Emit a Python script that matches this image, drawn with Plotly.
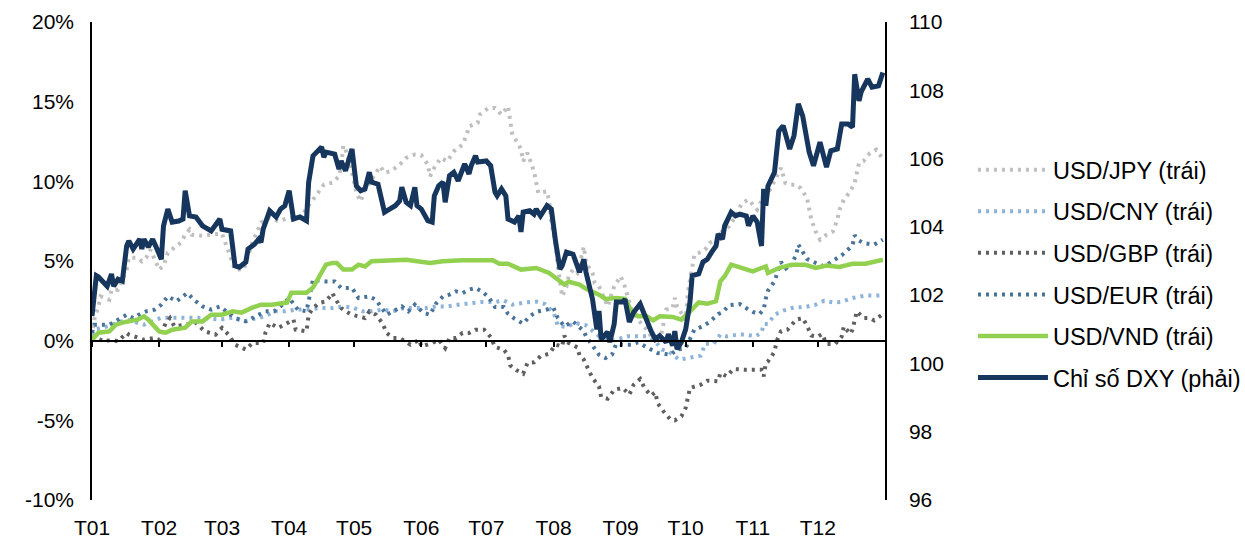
import plotly.graph_objects as go

# ---------------- data ----------------
month_starts = ["2024-01-01", "2024-02-01", "2024-03-01", "2024-04-01", "2024-05-01", "2024-06-01",
                "2024-07-01", "2024-08-01", "2024-09-01", "2024-10-01", "2024-11-01", "2024-12-01"]
month_labels = ["T01", "T02", "T03", "T04", "T05", "T06", "T07", "T08", "T09", "T10", "T11", "T12"]

jpy_dates = ["2024-01-01", "2024-01-02", "2024-01-04", "2024-01-05", "2024-01-09", "2024-01-10", "2024-01-13",
             "2024-01-17", "2024-01-18", "2024-01-22", "2024-01-24", "2024-01-26", "2024-01-28", "2024-02-01",
             "2024-02-03", "2024-02-05", "2024-02-08", "2024-02-11", "2024-02-13", "2024-02-15", "2024-02-16",
             "2024-02-21", "2024-03-01", "2024-03-07", "2024-03-11", "2024-03-15", "2024-03-19", "2024-03-23",
             "2024-03-27", "2024-04-01", "2024-04-06", "2024-04-12", "2024-04-15", "2024-04-17", "2024-04-21",
             "2024-04-24", "2024-04-25", "2024-04-26", "2024-04-27", "2024-04-30", "2024-05-02", "2024-05-04",
             "2024-05-06", "2024-05-09", "2024-05-13", "2024-05-15", "2024-05-18", "2024-05-22", "2024-05-25",
             "2024-05-29", "2024-06-01", "2024-06-04", "2024-06-05", "2024-06-07", "2024-06-10", "2024-06-13",
             "2024-06-16", "2024-06-20", "2024-06-22", "2024-06-23", "2024-06-27", "2024-06-28", "2024-07-02",
             "2024-07-05", "2024-07-08", "2024-07-11", "2024-07-12", "2024-07-13", "2024-07-16", "2024-07-17",
             "2024-07-18", "2024-07-20", "2024-07-23", "2024-07-24", "2024-07-25", "2024-07-29", "2024-07-30",
             "2024-07-31", "2024-08-02", "2024-08-03", "2024-08-05", "2024-08-07", "2024-08-08", "2024-08-10",
             "2024-08-12", "2024-08-15", "2024-08-16", "2024-08-19", "2024-08-20", "2024-08-22", "2024-08-25",
             "2024-08-26", "2024-08-29", "2024-09-01", "2024-09-03", "2024-09-06", "2024-09-09", "2024-09-13",
             "2024-09-16", "2024-09-19", "2024-09-22", "2024-09-25", "2024-09-26", "2024-09-27", "2024-09-30",
             "2024-10-01", "2024-10-02", "2024-10-04", "2024-10-05", "2024-10-07", "2024-10-10", "2024-10-12",
             "2024-10-15", "2024-10-17", "2024-10-21", "2024-10-24", "2024-10-27", "2024-10-30", "2024-11-03",
             "2024-11-06", "2024-11-09", "2024-11-12", "2024-11-14", "2024-11-16", "2024-11-18", "2024-11-21",
             "2024-11-23", "2024-11-26", "2024-11-27", "2024-11-28", "2024-11-30", "2024-12-02", "2024-12-05",
             "2024-12-08", "2024-12-10", "2024-12-11", "2024-12-13", "2024-12-16", "2024-12-18", "2024-12-19",
             "2024-12-20", "2024-12-22", "2024-12-25", "2024-12-28", "2024-12-31"]
jpy_vals = [0.3, 1.3, 2.2, 2.78, 2.57, 3.2, 3.2,
            4.46, 5.2, 5.2, 4.98, 5.2, 5.71, 4.46,
            4.7, 5.52, 5.84, 6.15, 6.65, 6.97, 6.65,
            6.59, 6.72, 4.46, 4.46, 6.15, 7.41, 7.72,
            7.49, 7.72, 7.72, 8.85, 9.37, 9.79, 9.92,
            10.31, 10.94, 12.24, 12.0, 10.55, 9.29, 8.74,
            9.48, 10.1, 10.94, 10.55, 10.63, 11.05, 11.47,
            11.68, 11.63, 11.05, 10.31, 10.86, 11.47, 11.26,
            11.88, 12.3, 12.93, 13.45, 13.67, 14.19, 14.61,
            14.61, 14.19, 14.71, 13.56, 12.93, 12.3, 11.99,
            11.26, 11.78, 10.63, 9.9, 9.27, 9.37, 8.74,
            7.39, 6.13, 4.66, 2.78, 3.4, 4.04, 4.46,
            4.25, 5.9, 4.88, 4.25, 3.62, 3.41, 2.57,
            2.15, 3.41, 4.04, 3.37, 1.95, 1.32, 0.69,
            0.06, -0.15, 1.95, 2.05, 2.68, 2.15, 1.53,
            1.3, 2.99, 4.66, 5.4, 5.5, 5.71, 6.13,
            6.34, 6.76, 7.18, 7.80, 8.64, 8.85, 8.22,
            9.06, 9.48, 10.31, 10.84, 9.9, 9.79, 9.79,
            9.58, 8.96, 8.22, 7.60, 6.86, 6.34, 6.65,
            6.86, 7.60, 8.22, 8.85, 9.37, 9.9, 10.42,
            11.15, 11.26, 11.78, 11.99, 11.4]

cny_dates = ["2024-01-01", "2024-01-02", "2024-01-08", "2024-01-17", "2024-01-25", "2024-02-02", "2024-02-08",
             "2024-02-13", "2024-02-19", "2024-02-29", "2024-03-06", "2024-03-11", "2024-03-17", "2024-03-21",
             "2024-03-25", "2024-03-30", "2024-04-04", "2024-04-10", "2024-04-15", "2024-04-21", "2024-04-26",
             "2024-05-01", "2024-05-05", "2024-05-09", "2024-05-14", "2024-05-19", "2024-05-24", "2024-06-03",
             "2024-06-08", "2024-06-13", "2024-06-18", "2024-06-23", "2024-06-29", "2024-07-05", "2024-07-09",
             "2024-07-13", "2024-07-19", "2024-07-24", "2024-07-28", "2024-08-01", "2024-08-03", "2024-08-07",
             "2024-08-11", "2024-08-16", "2024-08-20", "2024-08-23", "2024-08-29", "2024-09-04", "2024-09-13",
             "2024-09-17", "2024-09-20", "2024-09-23", "2024-09-28", "2024-10-03", "2024-10-08", "2024-10-10",
             "2024-10-14", "2024-10-17", "2024-10-20", "2024-10-25", "2024-10-29", "2024-11-02", "2024-11-05",
             "2024-11-06", "2024-11-08", "2024-11-11", "2024-11-15", "2024-11-20", "2024-11-25", "2024-11-30",
             "2024-12-04", "2024-12-08", "2024-12-12", "2024-12-17", "2024-12-23", "2024-12-28", "2024-12-31"]
cny_vals = [0.4, 0.69, 0.9, 1.32, 1.0, 1.44, 1.44,
            1.44, 1.44, 1.32, 1.44, 1.21, 1.44, 1.53,
            1.84, 1.84, 1.95, 1.95, 2.05, 2.05, 2.15,
            2.05, 1.84, 1.84, 1.95, 1.84, 2.05, 2.05,
            2.15, 2.15, 2.26, 2.32, 2.43, 2.43, 2.53,
            2.26, 2.40, 2.45, 2.30, 1.78, 0.94, 0.86,
            1.11, 0.96, 0.48, 0.17, 0.02, 0.27, 0.27,
            -0.04, -0.56, -0.67, -1.19, -1.09, -0.94, -0.19,
            -0.19, 0.38, 0.27, 0.38, 0.38, 0.27, 0.48,
            1.05, 1.05, 1.63, 1.88, 2.09, 2.11, 2.26,
            2.51, 2.40, 2.43, 2.68, 2.83, 2.83, 2.85]

gbp_dates = ["2024-01-01", "2024-01-02", "2024-01-07", "2024-01-10", "2024-01-13", "2024-01-17", "2024-01-18",
             "2024-01-22", "2024-01-25", "2024-01-30", "2024-02-01", "2024-02-04", "2024-02-06", "2024-02-08",
             "2024-02-12", "2024-02-18", "2024-02-22", "2024-02-27", "2024-03-01", "2024-03-04", "2024-03-07",
             "2024-03-12", "2024-03-15", "2024-03-20", "2024-03-21", "2024-03-23", "2024-03-27", "2024-03-31",
             "2024-04-03", "2024-04-04", "2024-04-09", "2024-04-10", "2024-04-12", "2024-04-15", "2024-04-18",
             "2024-04-21", "2024-04-22", "2024-04-25", "2024-04-27", "2024-04-30", "2024-05-06", "2024-05-08",
             "2024-05-11", "2024-05-14", "2024-05-16", "2024-05-19", "2024-05-22", "2024-05-27", "2024-05-31",
             "2024-06-01", "2024-06-06", "2024-06-09", "2024-06-12", "2024-06-14", "2024-06-17", "2024-06-20",
             "2024-06-23", "2024-06-26", "2024-06-30", "2024-07-03", "2024-07-05", "2024-07-09", "2024-07-11",
             "2024-07-12", "2024-07-15", "2024-07-18", "2024-07-20", "2024-07-23", "2024-07-26", "2024-07-30",
             "2024-08-01", "2024-08-02", "2024-08-05", "2024-08-06", "2024-08-08", "2024-08-12", "2024-08-13",
             "2024-08-15", "2024-08-17", "2024-08-19", "2024-08-22", "2024-08-23", "2024-08-26", "2024-08-29",
             "2024-09-02", "2024-09-05", "2024-09-07", "2024-09-10", "2024-09-12", "2024-09-15", "2024-09-17",
             "2024-09-18", "2024-09-21", "2024-09-24", "2024-09-26", "2024-09-29", "2024-10-01", "2024-10-02",
             "2024-10-03", "2024-10-08", "2024-10-11", "2024-10-16", "2024-10-17", "2024-10-20", "2024-10-23",
             "2024-10-28", "2024-11-05", "2024-11-06", "2024-11-07", "2024-11-08", "2024-11-11", "2024-11-12",
             "2024-11-14", "2024-11-17", "2024-11-21", "2024-11-24", "2024-11-26", "2024-11-28", "2024-12-01",
             "2024-12-03", "2024-12-05", "2024-12-09", "2024-12-12", "2024-12-13", "2024-12-16", "2024-12-17",
             "2024-12-18", "2024-12-19", "2024-12-22", "2024-12-25", "2024-12-27", "2024-12-31"]
gbp_vals = [0.1, 0.19, -0.04, 0.06, -0.04, 0.48, 0.38,
            0.17, 0.06, 0.17, 0.06, 1.11, 1.42, 0.9,
            1.0, 1.11, 0.59, 0.38, 0.80, 0.38, -0.25,
            -0.56, -0.15, -0.15, 0.48, 1.11, 0.80, 1.11,
            1.32, 0.69, 0.59, 1.63, 2.05, 2.37, 2.47,
            2.99, 2.68, 2.05, 1.84, 1.63, 1.42, 1.84,
            1.63, 1.11, 0.48, 0.17, 0.17, -0.25, 0.06,
            -0.36, -0.15, 0.06, -0.46, 0.17, 0.17, 0.48,
            0.48, 0.69, 0.69, 0.23, -0.4, -0.56, -0.88,
            -1.55, -1.86, -2.07, -1.40, -1.36, -0.98, -0.82,
            -0.46, -0.25, -0.36, 0.31, -0.15, -0.42, -0.92,
            -1.19, -1.78, -2.34, -2.87, -3.54, -3.64, -3.08,
            -2.97, -3.39, -2.76, -2.41, -2.97, -3.45, -3.24,
            -3.91, -4.48, -4.96, -5.0, -4.75, -4.22, -3.60,
            -2.97, -2.76, -2.51, -2.55, -2.03, -2.24, -1.78,
            -1.82, -1.82, -2.24, -1.40, -1.30, -0.70, -0.04,
            0.59, 0.69, 1.32, 1.42, 0.94, 0.33, 0.25,
            0.42, -0.21, -0.21, 0.25, 0.90, 0.42, 0.69,
            1.32, 1.84, 1.42, 1.42, 1.27, 1.67]

eur_dates = ["2024-01-01", "2024-01-02", "2024-01-04", "2024-01-09", "2024-01-17", "2024-01-20", "2024-01-24",
             "2024-01-26", "2024-01-30", "2024-02-02", "2024-02-05", "2024-02-09", "2024-02-12", "2024-02-14",
             "2024-02-17", "2024-02-21", "2024-02-25", "2024-02-29", "2024-03-03", "2024-03-07", "2024-03-12",
             "2024-03-15", "2024-03-18", "2024-03-21", "2024-03-25", "2024-03-28", "2024-04-01", "2024-04-05",
             "2024-04-09", "2024-04-10", "2024-04-12", "2024-04-18", "2024-04-22", "2024-04-25", "2024-04-30",
             "2024-05-03", "2024-05-08", "2024-05-11", "2024-05-16", "2024-05-19", "2024-05-23", "2024-05-26",
             "2024-05-29", "2024-06-02", "2024-06-05", "2024-06-08", "2024-06-11", "2024-06-14", "2024-06-17",
             "2024-06-20", "2024-06-23", "2024-06-26", "2024-06-29", "2024-07-02", "2024-07-05", "2024-07-09",
             "2024-07-11", "2024-07-14", "2024-07-18", "2024-07-21", "2024-07-24", "2024-07-27", "2024-08-01",
             "2024-08-03", "2024-08-06", "2024-08-10", "2024-08-13", "2024-08-15", "2024-08-16", "2024-08-19",
             "2024-08-22", "2024-08-25", "2024-08-28", "2024-08-30", "2024-09-02", "2024-09-06", "2024-09-09",
             "2024-09-15", "2024-09-18", "2024-09-24", "2024-09-27", "2024-10-01", "2024-10-05", "2024-10-09",
             "2024-10-12", "2024-10-16", "2024-10-18", "2024-10-21", "2024-10-24", "2024-10-26", "2024-10-30",
             "2024-11-01", "2024-11-04", "2024-11-06", "2024-11-07", "2024-11-08", "2024-11-11", "2024-11-14",
             "2024-11-17", "2024-11-21", "2024-11-22", "2024-11-24", "2024-11-26", "2024-11-30", "2024-12-04",
             "2024-12-10", "2024-12-12", "2024-12-17", "2024-12-18", "2024-12-20", "2024-12-22", "2024-12-27",
             "2024-12-31"]
eur_vals = [0.5, 1.0, 1.0, 1.0, 1.63, 1.42, 1.74,
            1.84, 1.95, 2.26, 2.78, 2.47, 2.78, 2.99,
            2.57, 2.15, 1.95, 2.15, 1.84, 1.42, 1.21,
            1.42, 1.63, 1.84, 1.84, 2.15, 2.68, 1.95,
            1.84, 2.47, 3.83, 3.72, 3.72, 3.31, 3.31,
            2.68, 2.78, 2.57, 1.63, 1.84, 2.15, 1.84,
            2.26, 1.74, 1.63, 2.37, 2.78, 2.89, 3.09,
            2.99, 3.20, 3.31, 3.09, 2.74, 2.11, 2.11,
            1.69, 1.38, 1.07, 1.53, 1.80, 1.90, 2.05,
            1.42, 0.90, 1.21, 0.80, 0.59, 0.27, -0.31,
            -0.88, -1.09, -0.88, -0.19, -0.25, -0.25, -0.10,
            -0.56, -0.77, -0.88, -0.56, -0.46, 0.69, 0.90,
            1.17, 1.67, 1.78, 2.22, 2.30, 2.30, 1.95,
            1.80, 1.67, 1.95, 2.65, 3.14, 3.72, 4.94,
            4.41, 5.35, 6.03, 5.54, 5.13, 4.88, 4.66,
            5.19, 5.35, 5.98, 6.61, 6.28, 6.13, 6.03,
            6.34]

vnd_dates = ["2024-01-01", "2024-01-04", "2024-01-09", "2024-01-12", "2024-01-15", "2024-01-18", "2024-01-22",
             "2024-01-25", "2024-01-27", "2024-02-01", "2024-02-04", "2024-02-07", "2024-02-13", "2024-02-16",
             "2024-02-21", "2024-02-25", "2024-03-01", "2024-03-06", "2024-03-10", "2024-03-15", "2024-03-19",
             "2024-03-24", "2024-03-31", "2024-04-02", "2024-04-09", "2024-04-12", "2024-04-15", "2024-04-18",
             "2024-04-21", "2024-04-23", "2024-04-26", "2024-04-30", "2024-05-03", "2024-05-06", "2024-05-09",
             "2024-05-20", "2024-05-25", "2024-06-05", "2024-06-11", "2024-06-20", "2024-07-04", "2024-07-07",
             "2024-07-11", "2024-07-17", "2024-07-24", "2024-07-30", "2024-08-04", "2024-08-06", "2024-08-08",
             "2024-08-13", "2024-08-16", "2024-08-19", "2024-08-22", "2024-08-25", "2024-08-30", "2024-09-03",
             "2024-09-06", "2024-09-09", "2024-09-13", "2024-09-16", "2024-09-19", "2024-09-25", "2024-09-29",
             "2024-10-03", "2024-10-07", "2024-10-11", "2024-10-15", "2024-10-17", "2024-10-19", "2024-10-22",
             "2024-10-27", "2024-11-01", "2024-11-05", "2024-11-07", "2024-11-08", "2024-11-13", "2024-11-19",
             "2024-11-25", "2024-11-30", "2024-12-05", "2024-12-11", "2024-12-17", "2024-12-23", "2024-12-31"]
vnd_vals = [0.06, 0.5, 0.58, 1.0, 1.13, 1.21, 1.32,
            1.53, 1.32, 0.58, 0.5, 0.69, 0.82, 1.21,
            1.21, 1.63, 1.63, 1.84, 1.76, 2.07, 2.26,
            2.26, 2.39, 3.01, 3.01, 3.33, 4.04, 4.77,
            4.88, 4.88, 4.46, 4.46, 4.77, 4.66, 4.98,
            5.04, 5.08, 4.88, 4.98, 5.04, 5.04, 4.83,
            4.83, 4.46, 4.56, 4.25, 3.67, 3.52, 3.70,
            3.52, 3.25, 3.09, 2.89, 2.62, 2.68, 2.62,
            1.84, 1.53, 1.53, 1.27, 1.53, 1.49, 1.32,
            1.84, 2.40, 2.32, 2.47, 3.72, 4.04, 4.77,
            4.56, 4.35, 4.56, 4.66, 4.25, 4.56, 4.77,
            4.77, 4.56, 4.71, 4.63, 4.83, 4.83, 5.08]

dxy_dates = ["2024-01-01", "2024-01-03", "2024-01-04", "2024-01-08", "2024-01-10", "2024-01-11", "2024-01-13",
             "2024-01-15", "2024-01-17", "2024-01-18", "2024-01-20", "2024-01-23", "2024-01-24", "2024-01-25",
             "2024-01-27", "2024-01-29", "2024-01-31", "2024-02-02", "2024-02-03", "2024-02-05", "2024-02-07",
             "2024-02-10", "2024-02-12", "2024-02-13", "2024-02-15", "2024-02-18", "2024-02-21", "2024-02-25",
             "2024-02-29", "2024-03-01", "2024-03-05", "2024-03-07", "2024-03-09", "2024-03-12", "2024-03-13",
             "2024-03-16", "2024-03-18", "2024-03-19", "2024-03-20", "2024-03-23", "2024-03-26", "2024-03-28",
             "2024-03-30", "2024-04-01", "2024-04-03", "2024-04-06", "2024-04-09", "2024-04-10", "2024-04-12",
             "2024-04-15", "2024-04-16", "2024-04-17", "2024-04-18", "2024-04-22", "2024-04-24", "2024-04-25",
             "2024-04-27", "2024-04-30", "2024-05-02", "2024-05-04", "2024-05-06", "2024-05-08", "2024-05-09",
             "2024-05-12", "2024-05-15", "2024-05-16", "2024-05-20", "2024-05-22", "2024-05-23", "2024-05-25",
             "2024-05-27", "2024-05-29", "2024-05-30", "2024-06-01", "2024-06-04", "2024-06-06", "2024-06-07",
             "2024-06-09", "2024-06-11", "2024-06-12", "2024-06-14", "2024-06-16", "2024-06-18", "2024-06-21",
             "2024-06-23", "2024-06-24", "2024-06-26", "2024-06-27", "2024-07-01", "2024-07-03", "2024-07-05",
             "2024-07-06", "2024-07-08", "2024-07-10", "2024-07-11", "2024-07-14", "2024-07-16", "2024-07-17",
             "2024-07-18", "2024-07-21", "2024-07-23", "2024-07-24", "2024-07-26", "2024-07-29", "2024-07-31",
             "2024-08-02", "2024-08-04", "2024-08-05", "2024-08-07", "2024-08-10", "2024-08-13", "2024-08-15",
             "2024-08-16", "2024-08-19", "2024-08-21", "2024-08-22", "2024-08-23", "2024-08-26", "2024-08-27",
             "2024-08-29", "2024-08-30", "2024-09-02", "2024-09-03", "2024-09-05", "2024-09-07", "2024-09-10",
             "2024-09-13", "2024-09-15", "2024-09-17", "2024-09-19", "2024-09-22", "2024-09-23", "2024-09-25",
             "2024-09-26", "2024-09-27", "2024-09-29", "2024-10-01", "2024-10-03", "2024-10-04", "2024-10-07",
             "2024-10-09", "2024-10-11", "2024-10-13", "2024-10-15", "2024-10-16", "2024-10-18", "2024-10-19",
             "2024-10-22", "2024-10-24", "2024-10-26", "2024-10-29", "2024-10-30", "2024-11-01", "2024-11-03",
             "2024-11-05", "2024-11-06", "2024-11-07", "2024-11-08", "2024-11-11", "2024-11-13", "2024-11-15",
             "2024-11-17", "2024-11-18", "2024-11-20", "2024-11-22", "2024-11-24", "2024-11-25", "2024-11-27",
             "2024-11-29", "2024-12-02", "2024-12-05", "2024-12-07", "2024-12-10", "2024-12-12", "2024-12-15",
             "2024-12-17", "2024-12-18", "2024-12-20", "2024-12-21", "2024-12-24", "2024-12-26", "2024-12-29",
             "2024-12-31"]
dxy_vals = [101.39, 102.57, 102.53, 102.26, 102.62, 102.26, 102.47,
            102.41, 103.44, 103.59, 103.35, 103.64, 103.35, 103.64,
            103.41, 103.64, 103.35, 103.05, 104.03, 104.52, 104.14,
            104.17, 104.23, 105.06, 104.32, 104.29, 104.03, 103.88,
            104.23, 103.93, 103.88, 102.86, 102.82, 102.97, 103.35,
            103.49, 103.64, 103.55, 103.93, 104.47, 104.29, 104.52,
            104.62, 105.06, 104.23, 104.29, 104.18, 105.31, 106.08,
            106.28, 106.34, 106.04, 106.19, 106.13, 105.69, 105.93,
            105.64, 106.28, 105.20, 105.06, 105.11, 105.60, 105.31,
            105.25, 104.43, 104.47, 104.62, 104.76, 105.16, 104.72,
            104.62, 105.16, 104.62, 104.52, 104.18, 104.14, 104.91,
            105.20, 105.31, 104.72, 105.50, 105.60, 105.35, 105.84,
            105.55, 105.79, 106.08, 105.90, 105.93, 105.79, 105.02,
            104.91, 105.11, 104.91, 104.23, 104.14, 104.32, 103.85,
            104.43, 104.47, 104.37, 104.52, 104.32, 104.62, 104.52,
            103.55, 102.76, 102.86, 103.26, 103.20, 102.67, 103.05,
            102.67, 101.88, 101.00, 101.54, 100.71, 100.92, 100.62,
            101.15, 101.80, 101.80, 101.88, 101.21, 101.50, 101.74,
            101.21, 100.95, 100.71, 100.81, 100.62, 100.86, 100.52,
            100.95, 100.42, 100.62, 101.00, 101.80, 102.57, 102.62,
            102.97, 103.05, 103.26, 103.44, 103.79, 103.64, 104.03,
            104.43, 104.32, 104.37, 104.32, 104.03, 104.32, 104.14,
            103.44, 105.11, 104.62, 105.20, 105.60, 106.81, 106.96,
            106.52, 106.28, 106.67, 107.60, 107.25, 106.86, 106.19,
            105.79, 106.48, 105.75, 106.23, 106.28, 107.01, 107.01,
            106.92, 108.47, 107.69, 107.95, 108.33, 108.09, 108.13,
            108.52]

left_ticks = [-10, -5, 0, 5, 10, 15, 20]
left_labels = ["-10%", "-5%", "0%", "5%", "10%", "15%", "20%"]
right_ticks = [96, 98, 100, 102, 104, 106, 108, 110]
right_labels = ["96", "98", "100", "102", "104", "106", "108", "110"]

# ---------------- figure ----------------
FONT = "Liberation Sans, Arial, sans-serif"
DOT = "3px,5px"

fig = go.Figure()

series = [
    ("USD/JPY (trái)", jpy_dates, jpy_vals, "#BFBFBF", DOT, 4, "y"),
    ("USD/CNY (trái)", cny_dates, cny_vals, "#8DB3D9", DOT, 4, "y"),
    ("USD/GBP (trái)", gbp_dates, gbp_vals, "#5F5F5F", DOT, 4, "y"),
    ("USD/EUR (trái)", eur_dates, eur_vals, "#4A7399", DOT, 4, "y"),
    ("USD/VND (trái)", vnd_dates, vnd_vals, "#92D050", "solid", 4.5, "y"),
    ("Chỉ số DXY (phải)", dxy_dates, dxy_vals, "#17365D", "solid", 5, "y2"),
]
for name, xs, ys, color, dash, w, yax in series:
    fig.add_trace(go.Scatter(
        x=xs, y=ys, name=name, mode="lines", yaxis=yax, xaxis="x",
        legendgroup=name,
        line=dict(color=color, width=w, dash=dash),
        hoverinfo="skip",
    ))

# empty helper trace so that the label-only bottom axis is drawn
fig.add_trace(go.Scatter(x=[], y=[], xaxis="x2", yaxis="y", showlegend=False,
                         hoverinfo="skip", mode="lines"))

x_range = ["2024-01-01", "2025-01-01"]

fig.update_layout(
    width=1245, height=542,
    margin=dict(l=92, r=360, t=22, b=42, autoexpand=False),
    paper_bgcolor="white", plot_bgcolor="white",
    font=dict(family=FONT, size=21, color="black"),
    showlegend=True,
    legend=dict(
        xref="container", yref="container",
        x=0.7815, y=0.727, xanchor="left", yanchor="top",
        font=dict(family=FONT, size=23.5, color="black"),
        itemwidth=70, tracegroupgap=8, traceorder="grouped",
        bgcolor="rgba(0,0,0,0)",
    ),
    xaxis=dict(
        range=x_range, type="date", anchor="free", position=1/3,
        showline=True, linecolor="black", linewidth=1.5,
        ticks="outside", ticklen=6, tickwidth=1.5, tickcolor="black",
        tickvals=month_starts, showticklabels=False,
        showgrid=False, zeroline=False, automargin=False,
    ),
    xaxis2=dict(
        range=x_range, type="date", overlaying="x", anchor="y", side="bottom",
        tickvals=month_starts, ticktext=month_labels,
        showline=False, ticks="", showgrid=False, zeroline=False,
        tickfont=dict(family=FONT, size=21, color="black"),
        ticklabelstandoff=13, automargin=False,
    ),
    yaxis=dict(
        range=[-10, 20], tickvals=left_ticks, ticktext=left_labels,
        showline=True, linecolor="black", linewidth=1.5, ticks="",
        showgrid=False, zeroline=False, anchor="x",
        tickfont=dict(family=FONT, size=21, color="black"),
        ticklabelstandoff=12, automargin=False,
    ),
    yaxis2=dict(
        range=[96, 110], tickvals=right_ticks, ticktext=right_labels, overlaying="y", side="right",
        showline=True, linecolor="black", linewidth=1.5, ticks="",
        showgrid=False, zeroline=False, anchor="x",
        tickfont=dict(family=FONT, size=21, color="black"),
        ticklabelstandoff=18, automargin=False,
    ),
)

fig.write_html("out.html")
